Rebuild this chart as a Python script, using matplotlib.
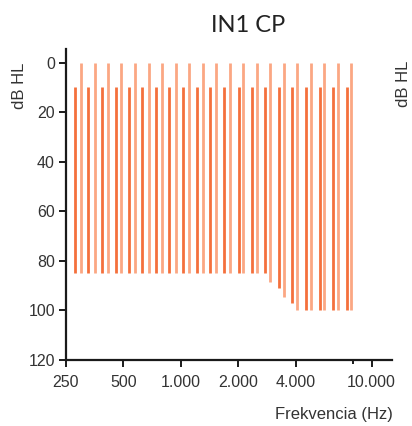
import matplotlib
matplotlib.use("Agg")
import matplotlib.pyplot as plt
from matplotlib.ticker import FixedLocator, NullFormatter

# frequencies (Hz), two interleaved series
freq_dark = [279, 327, 386, 456, 536, 629, 743, 872, 1030, 1209, 1427,
             1690, 2010, 2364, 2776, 3276, 3848, 4541, 5354, 6296, 7422]
top_dark = [10] * 21
bottom_dark = [85, 85, 85, 85, 85, 85, 85, 85, 85, 85, 85,
               85, 85, 85, 85, 91, 97, 100, 100, 100, 100]

freq_light = [301, 354, 416, 488, 576, 680, 799, 942, 1107, 1300, 1534,
              1802, 2127, 2511, 2949, 3463, 4087, 4802, 5646, 6656, 7828]
top_light = [0] * 21
bottom_light = [85, 85, 85, 85, 85, 85, 85, 85, 85, 85, 85,
                85, 85, 85, 88.5, 94.5, 100, 100, 100, 100, 100]

xticks = [250, 500, 1000, 2000, 4000, 10000]
xticklabels = ["250", "500", "1.000", "2.000", "4.000", "10.000"]
yticks = [0, 20, 40, 60, 80, 100, 120]

dark_col = "#f4703c"
light_col = "#fba783"
text_col = "#333333"

plt.rcParams['font.family'] = ['Liberation Sans', 'DejaVu Sans']

fig = plt.figure(figsize=(4.12, 4.26), dpi=100)
ax = fig.add_axes([66 / 412, 1 - 360 / 426, 326 / 412, 311 / 426])

ax.vlines(freq_dark, top_dark, bottom_dark, colors=dark_col, linewidth=2.0)
ax.vlines(freq_light, top_light, bottom_light, colors=light_col, linewidth=2.0)

ax.set_xscale("log")
ax.set_xlim(250, 12800)
ax.set_ylim(120, -5.5)

ax.xaxis.set_major_locator(FixedLocator(xticks))
ax.set_xticklabels(xticklabels)
ax.xaxis.set_minor_locator(FixedLocator([8000]))
ax.xaxis.set_minor_formatter(NullFormatter())
ax.set_yticks(yticks)

for side in ["top", "right"]:
    ax.spines[side].set_visible(False)
for side in ["left", "bottom"]:
    ax.spines[side].set_linewidth(1.6)
    ax.spines[side].set_color("#1a1a1a")

ax.tick_params(axis="both", which="major", length=5, width=1.4, color="#1a1a1a",
               labelsize=11.5, labelcolor=text_col)
ax.tick_params(axis="x", which="major", pad=6)
ax.tick_params(axis="y", which="major", pad=3)
ax.tick_params(axis="x", which="minor", length=3, width=1.4, color="#1a1a1a")

fig.text(248 / 412, 1 - 25 / 426, "IN1 CP", family="Lato", fontsize=17,
         color="#222222", ha="center", va="center")
fig.text(19 / 412, 1 - 86 / 426, "dB HL", rotation=90, fontsize=12,
         color=text_col, ha="center", va="center")
fig.text(403 / 412, 1 - 84 / 426, "dB HL", rotation=90, fontsize=12,
         color=text_col, ha="center", va="center")
fig.text(393 / 412, 1 - 415 / 426, "Frekvencia (Hz)", fontsize=12,
         color=text_col, ha="right", va="center")

fig.savefig("out.png", dpi=100)
